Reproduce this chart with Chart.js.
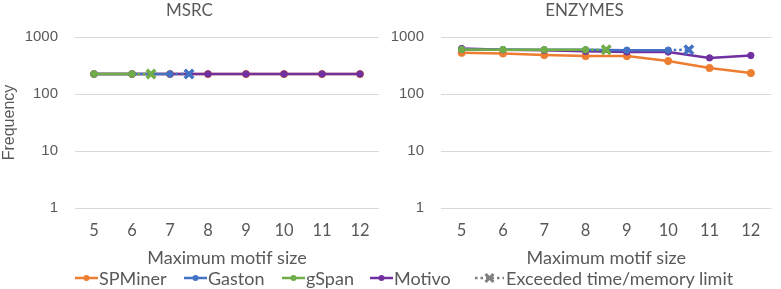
<!DOCTYPE html>
<html>
<head>
<meta charset="utf-8">
<script src="https://cdn.jsdelivr.net/npm/chart.js@4"></script>
<style>
  body { margin: 0; background: #fff; }
  #wrap { position: relative; width: 781px; height: 289px; overflow: hidden; }
  #c1 { position: absolute; left: 0; top: 0; }
  #c2 { position: absolute; left: 390px; top: 0; }
  .lg { position: absolute; top: 267px; height: 22px; line-height: 22px; font: 18px Lato, sans-serif; color: #595959; white-space: nowrap; }
  .lg svg { position: absolute; top: 5px; }
</style>
</head>
<body>
<div id="wrap">
  <canvas id="c1" width="390" height="270"></canvas>
  <canvas id="c2" width="391" height="270"></canvas>
  <div id="legend"></div>
</div>
<script>
const sizes = [5, 6, 7, 8, 9, 10, 11, 12];
const yTicks = [1, 10, 100, 1000];

const msrcSPMiner = [224, 224, 224, 224, 224, 224, 224, 224];
const msrcGaston  = [224, 224, 224, null, null, null, null, null];
const msrcGSpan   = [224, 224, null, null, null, null, null, null];
const msrcMotivo  = [224, 224, 224, 224, 224, 224, 224, 224];
const msrcGastonLimit = [7.5, 224];
const msrcGSpanLimit  = [6.5, 224];

const enzSPMiner = [527, 514, 481, 462, 462, 379, 286, 233];
const enzGaston  = [605, 600, 598, 596, 588, 588, null, null];
const enzGSpan   = [605, 600, 598, 596, null, null, null, null];
const enzMotivo  = [627, 600, 585, 560, 548, 545, 430, 474];
const enzGastonLimit = [10.5, 600];
const enzGSpanLimit  = [8.5, 600];

const names  = ['SPMiner', 'Gaston', 'gSpan', 'Motivo'];
const colors = ['#ED7D31', '#4472C4', '#70AD47', '#7030A0'];
const grey = '#595959';

function series(i, values, limit) {
  const pts = [];
  values.forEach((v, k) => { if (v != null) pts.push({x: sizes[k], y: v}); });
  if (limit) pts.push({x: limit[0], y: limit[1], limit: true});
  const c = colors[i];
  return {
    label: names[i],
    data: pts,
    borderColor: c,
    backgroundColor: c,
    borderWidth: 2.5,
    pointBackgroundColor: c,
    pointBorderColor: c,
    pointStyle: ctx => (ctx.raw && ctx.raw.limit) ? 'crossRot' : 'circle',
    pointRadius: ctx => (ctx.raw && ctx.raw.limit) ? 6 : (i === 0 ? 3.6 : 3.2),
    pointBorderWidth: ctx => (ctx.raw && ctx.raw.limit) ? 3.5 : 1,
    segment: { borderDash: ctx => pts[ctx.p1DataIndex].limit ? [2.5, 3] : undefined },
    order: [4, 2, 1, 3][i]
  };
}

function makeChart(id, title, sets, yWidth, padRight, showYTitle) {
  return new Chart(document.getElementById(id), {
    type: 'line',
    data: { datasets: sets },
    options: {
      responsive: false,
      animation: false,
      layout: { padding: { left: 0, right: padRight, top: 0, bottom: 0 } },
      plugins: {
        legend: { display: false },
        tooltip: { enabled: false },
        title: {
          display: true, text: title, color: grey,
          font: { family: 'Lato', size: 17, weight: 'normal', lineHeight: 1.2 },
          padding: { top: 0, bottom: 16.6 }
        }
      },
      scales: {
        x: {
          type: 'linear', min: 4.5, max: 12.5,
          afterBuildTicks: s => { s.ticks = sizes.map(v => ({ value: v })); },
          afterFit: s => { s.height = 62; },
          grid: { display: false, drawTicks: false },
          border: { display: false },
          ticks: { color: grey, padding: 13, maxRotation: 0, font: { family: 'Lato', size: 16.5 } },
          title: {
            display: true, text: 'Maximum motif size', color: grey,
            font: { family: 'Lato', size: 18 }, padding: { top: 0, bottom: 1.2 }
          }
        },
        y: {
          type: 'logarithmic', min: 1, max: 1000,
          afterBuildTicks: s => { s.ticks = yTicks.map(v => ({ value: v })); },
          afterFit: s => { s.width = yWidth; },
          grid: { color: '#d9d9d9', lineWidth: 1, drawTicks: false },
          border: { display: false },
          ticks: { color: grey, padding: 17, callback: v => String(v), font: { family: 'Liberation Sans', size: 15 } },
          title: {
            display: showYTitle, text: 'Frequency', color: grey,
            font: { family: 'Liberation Sans', size: 16 }, padding: { top: 0, bottom: 0 }
          }
        }
      }
    }
  });
}

makeChart('c1', 'MSRC', [
  series(0, msrcSPMiner),
  series(1, msrcGaston, msrcGastonLimit),
  series(2, msrcGSpan, msrcGSpanLimit),
  series(3, msrcMotivo)
], 75, 11, true);

makeChart('c2', 'ENZYMES', [
  series(0, enzSPMiner),
  series(1, enzGaston, enzGastonLimit),
  series(2, enzGSpan, enzGSpanLimit),
  series(3, enzMotivo)
], 51, 2, false);

// legend under both panels
const legendX = [75, 184, 282, 370, 475];
const lg = document.getElementById('legend');
names.concat(['Exceeded time/memory limit']).forEach((n, i) => {
  const d = document.createElement('div');
  d.className = 'lg';
  d.style.left = legendX[i] + 'px';
  let mark;
  if (i < 4) {
    mark = '<svg width="24" height="12"><line x1="0" y1="6" x2="23" y2="6" stroke="' + colors[i] +
      '" stroke-width="2.5"/><circle cx="11.5" cy="6" r="3" fill="' + colors[i] + '"/></svg>';
  } else {
    mark = '<svg width="29" height="12"><line x1="0" y1="6" x2="29" y2="6" stroke="#7f7f7f" stroke-width="2.5" stroke-dasharray="2.5 3"/>' +
      '<path d="M10.5 2 L18.5 10 M18.5 2 L10.5 10" stroke="#7f7f7f" stroke-width="3"/></svg>';
  }
  d.innerHTML = mark + '<span style="margin-left:' + (i < 4 ? 24 : 31) + 'px">' + n + '</span>';
  lg.appendChild(d);
});
</script>
</body>
</html>
